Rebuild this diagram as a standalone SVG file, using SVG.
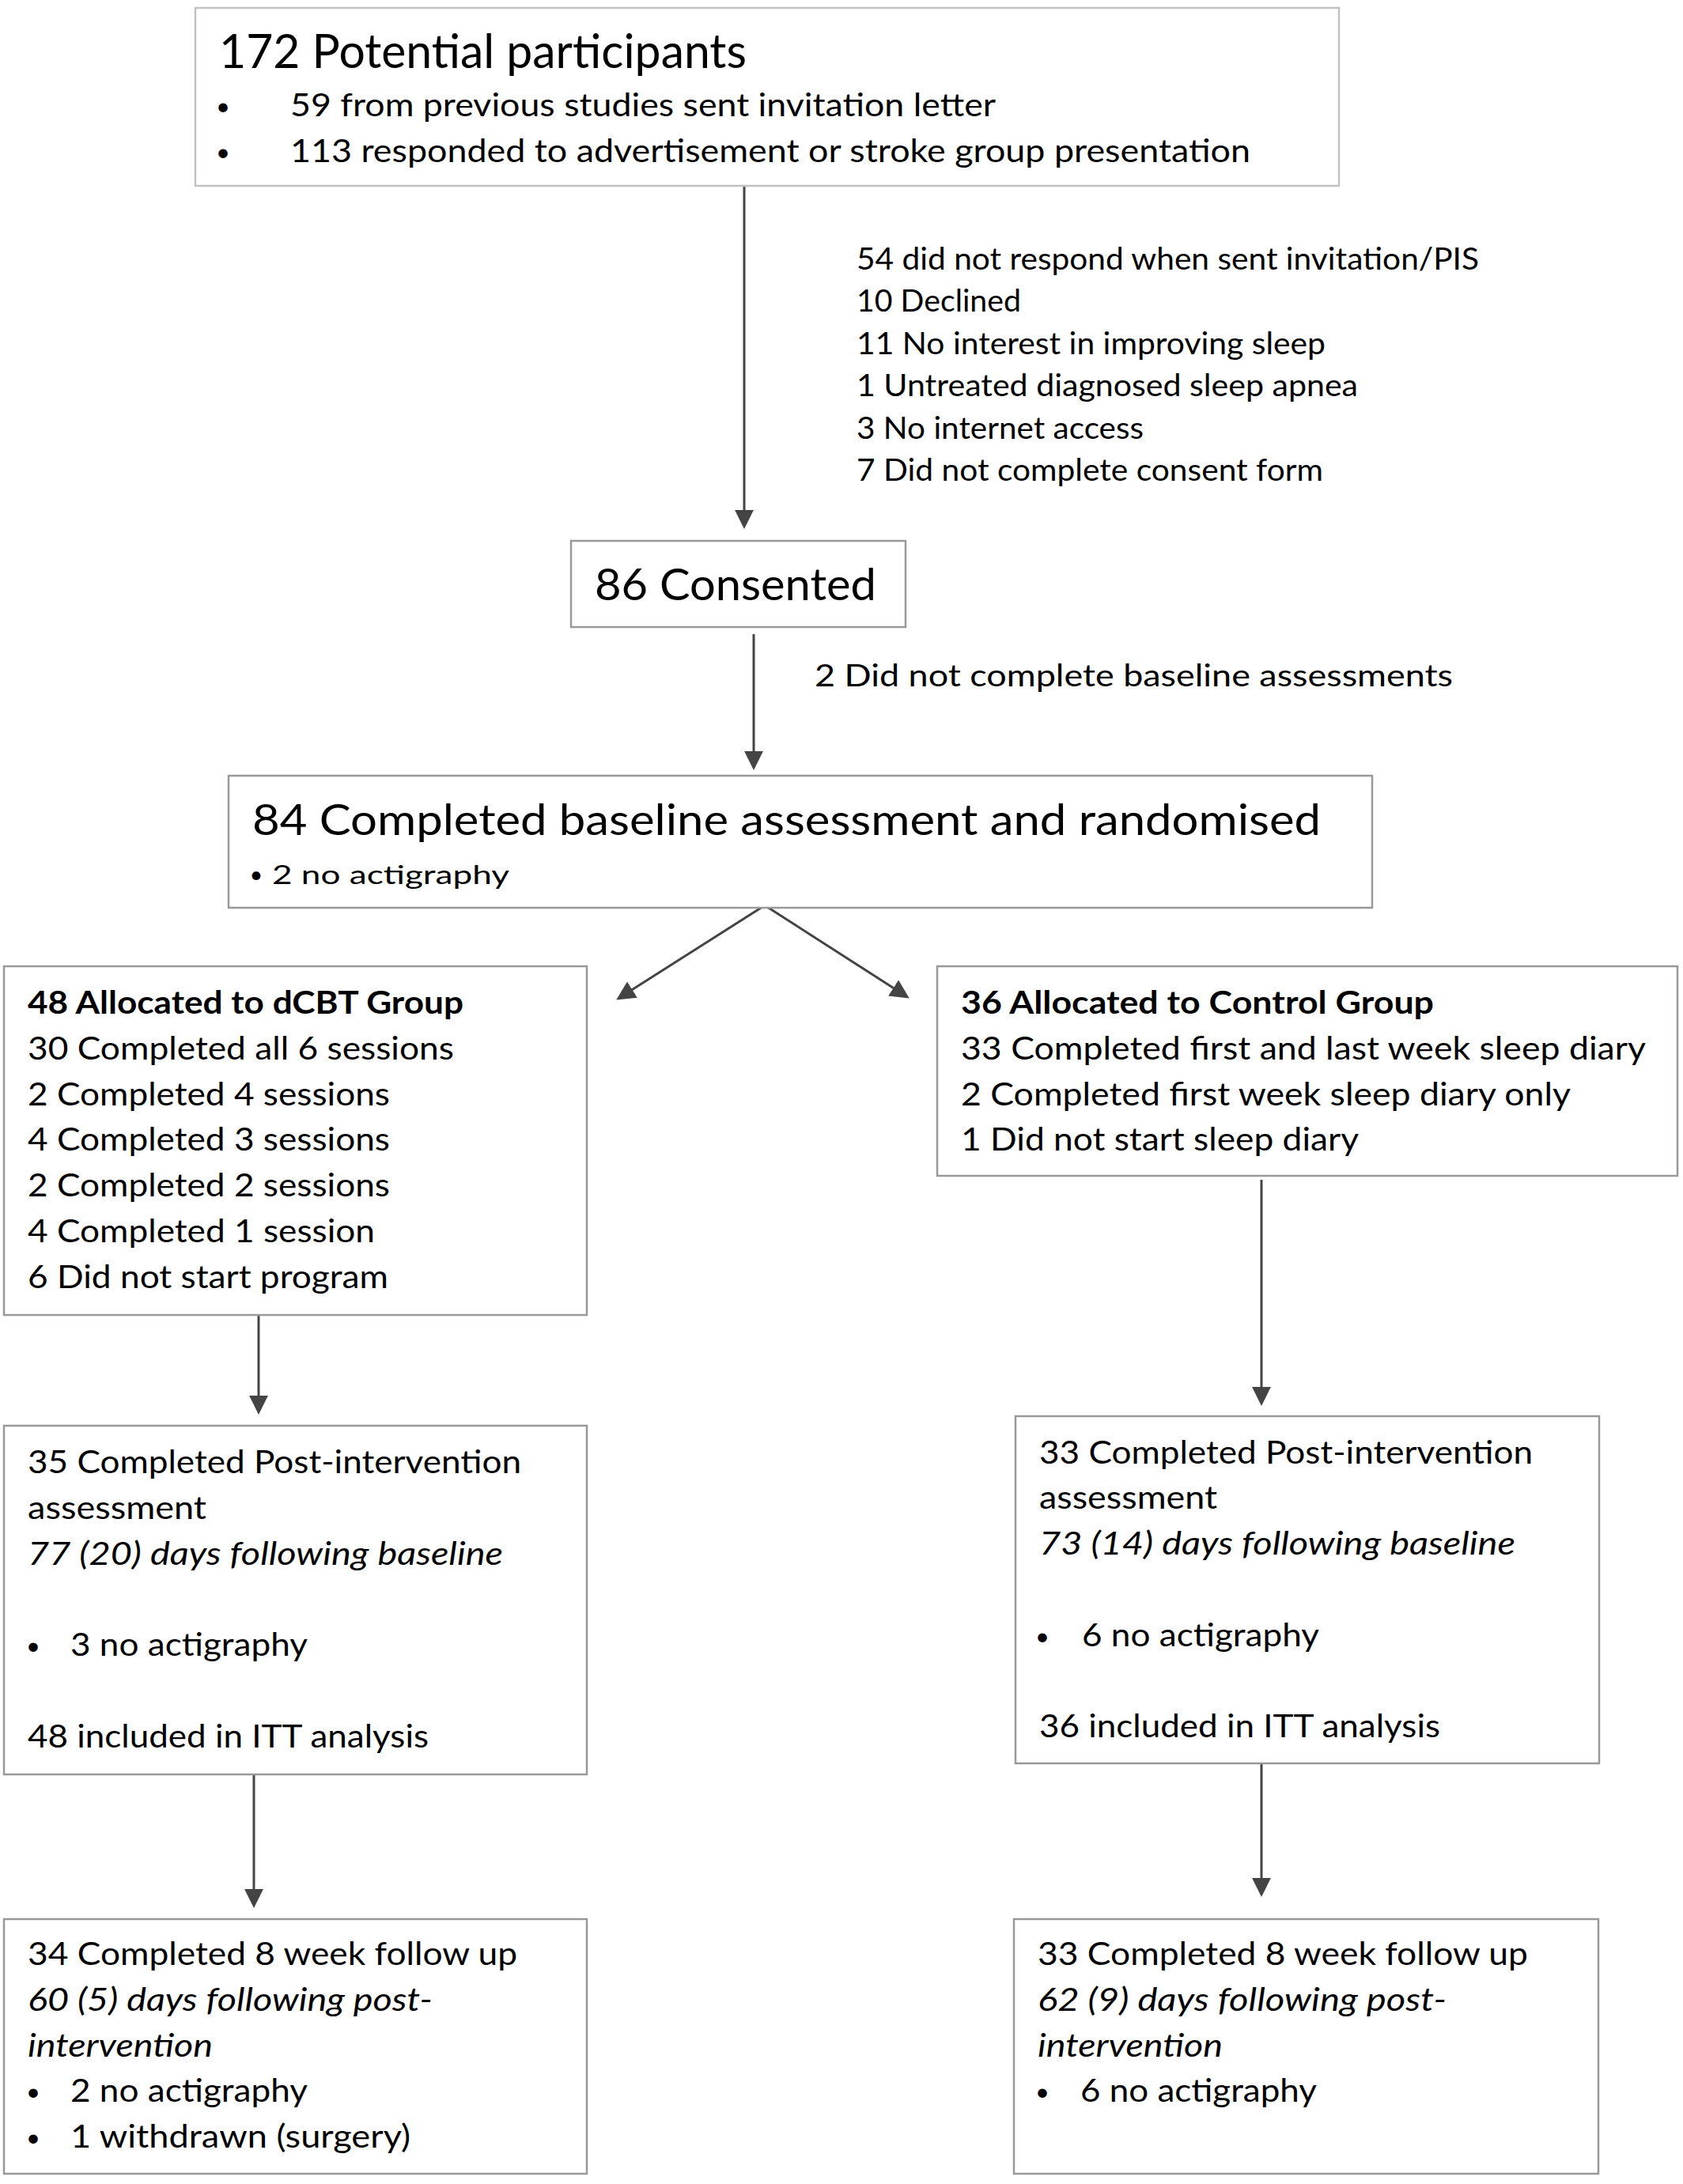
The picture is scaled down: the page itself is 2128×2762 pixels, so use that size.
<svg xmlns="http://www.w3.org/2000/svg" width="2128" height="2762" viewBox="0 0 2128 2762">
<style>
.box{fill:#ffffff;stroke:#999999;stroke-width:2.5}
.boxl{fill:#ffffff;stroke:#c2c2c2;stroke-width:2.5}
text{font-family:Lato,"Open Sans","Liberation Sans",sans-serif;fill:#000000}
.t60{font-size:60px}
.t57{font-size:57px}
.t55{font-size:55px}
.t41{font-size:41px}
.t39{font-size:39px}
.t38{font-size:38px}
.t40{font-size:40px}
.t33{font-size:33px}
.b{font-weight:bold}
.i{font-style:italic}
.bul{text-anchor:middle;font-size:31px}
.buls{text-anchor:middle;font-size:29px}
.conn line{stroke:#444444;stroke-width:3;fill:none}
</style>
<defs>
<marker id="ah" markerUnits="userSpaceOnUse" markerWidth="24" markerHeight="24" viewBox="0 0 22 22" refX="12" refY="11" orient="auto">
<path d="M0,0 L22,11 L0,22 Z" fill="#444444"/>
</marker>
</defs>
<rect width="2128" height="2762" fill="#ffffff"/>

<g id="connectors" class="conn">
<line x1="941" y1="235" x2="941" y2="658" marker-end="url(#ah)"/>
<line x1="953" y1="802" x2="953" y2="963" marker-end="url(#ah)"/>
<line x1="967" y1="1145" x2="788.4" y2="1258.6" marker-end="url(#ah)"/>
<line x1="967" y1="1145" x2="1140.6" y2="1256.6" marker-end="url(#ah)"/>
<line x1="327" y1="1663" x2="327" y2="1778" marker-end="url(#ah)"/>
<line x1="1595" y1="1492" x2="1595" y2="1767" marker-end="url(#ah)"/>
<line x1="321" y1="2244" x2="321" y2="2402" marker-end="url(#ah)"/>
<line x1="1595" y1="2230" x2="1595" y2="2388" marker-end="url(#ah)"/>
</g>

<g id="potential">
<rect class="boxl" x="247" y="10" width="1446" height="225"/>
<text class="t60" x="277" y="86" textLength="667" lengthAdjust="spacingAndGlyphs">172 Potential participants</text>
<text class="bul" x="282" y="145">•</text>
<text class="t41" x="367" y="147" textLength="892" lengthAdjust="spacingAndGlyphs">59 from previous studies sent invitation letter</text>
<text class="bul" x="282" y="203">•</text>
<text class="t41" x="367" y="205" textLength="1214" lengthAdjust="spacingAndGlyphs">113 responded to advertisement or stroke group presentation</text>
</g>

<g id="excluded1">
<text class="t39" x="1083" y="340.5" textLength="787" lengthAdjust="spacingAndGlyphs">54 did not respond when sent invitation/PIS</text>
<text class="t39" x="1083" y="394" textLength="208" lengthAdjust="spacingAndGlyphs">10 Declined</text>
<text class="t39" x="1083" y="447.5" textLength="593" lengthAdjust="spacingAndGlyphs">11 No interest in improving sleep</text>
<text class="t39" x="1083" y="501" textLength="634" lengthAdjust="spacingAndGlyphs">1 Untreated diagnosed sleep apnea</text>
<text class="t39" x="1083" y="554.5" textLength="363" lengthAdjust="spacingAndGlyphs">3 No internet access</text>
<text class="t39" x="1083" y="608" textLength="590" lengthAdjust="spacingAndGlyphs">7 Did not complete consent form</text>
</g>

<g id="consented">
<rect class="box" x="722" y="684" width="423" height="109"/>
<text class="t57" x="752" y="759" textLength="356" lengthAdjust="spacingAndGlyphs">86 Consented</text>
</g>

<g id="excluded2">
<text class="t38" x="1030" y="868" textLength="807" lengthAdjust="spacingAndGlyphs">2 Did not complete baseline assessments</text>
</g>

<g id="randomised">
<rect class="box" x="289" y="981" width="1446" height="167"/>
<text class="t55" x="319" y="1056" textLength="1351" lengthAdjust="spacingAndGlyphs">84 Completed baseline assessment and randomised</text>
<text class="buls" x="324" y="1116">•</text>
<text class="t33" x="344" y="1117.5" textLength="300" lengthAdjust="spacingAndGlyphs">2 no actigraphy</text>
</g>

<g id="dcbt">
<rect class="box" x="5" y="1222" width="737" height="441"/>
<text class="t40 b" x="35" y="1282" textLength="551" lengthAdjust="spacingAndGlyphs">48 Allocated to dCBT Group</text>
<text class="t40" x="35" y="1339.8" textLength="539" lengthAdjust="spacingAndGlyphs">30 Completed all 6 sessions</text>
<text class="t40" x="35" y="1397.6" textLength="458" lengthAdjust="spacingAndGlyphs">2 Completed 4 sessions</text>
<text class="t40" x="35" y="1455.4" textLength="458" lengthAdjust="spacingAndGlyphs">4 Completed 3 sessions</text>
<text class="t40" x="35" y="1513.2" textLength="458" lengthAdjust="spacingAndGlyphs">2 Completed 2 sessions</text>
<text class="t40" x="35" y="1571" textLength="439" lengthAdjust="spacingAndGlyphs">4 Completed 1 session</text>
<text class="t40" x="35" y="1628.8" textLength="456" lengthAdjust="spacingAndGlyphs">6 Did not start program</text>
</g>

<g id="control">
<rect class="box" x="1185" y="1222" width="936" height="265"/>
<text class="t40 b" x="1215" y="1282" textLength="598" lengthAdjust="spacingAndGlyphs">36 Allocated to Control Group</text>
<text class="t40" x="1215" y="1339.8" textLength="866" lengthAdjust="spacingAndGlyphs">33 Completed first and last week sleep diary</text>
<text class="t40" x="1215" y="1397.6" textLength="771" lengthAdjust="spacingAndGlyphs">2 Completed first week sleep diary only</text>
<text class="t40" x="1215" y="1455.4" textLength="503" lengthAdjust="spacingAndGlyphs">1 Did not start sleep diary</text>
</g>

<g id="dcbt-post">
<rect class="box" x="5" y="1803" width="737" height="441"/>
<text class="t40" x="35" y="1863" textLength="624" lengthAdjust="spacingAndGlyphs">35 Completed Post-intervention</text>
<text class="t40" x="35" y="1920.8" textLength="226" lengthAdjust="spacingAndGlyphs">assessment</text>
<text class="t40 i" x="35" y="1978.6" textLength="601" lengthAdjust="spacingAndGlyphs">77 (20) days following baseline</text>
<text class="bul" x="42" y="2092">•</text>
<text class="t40" x="89" y="2094.2" textLength="300" lengthAdjust="spacingAndGlyphs">3 no actigraphy</text>
<text class="t40" x="35" y="2209.8" textLength="507" lengthAdjust="spacingAndGlyphs">48 included in ITT analysis</text>
</g>

<g id="control-post">
<rect class="box" x="1284" y="1791" width="738" height="439"/>
<text class="t40" x="1314" y="1850.5" textLength="624" lengthAdjust="spacingAndGlyphs">33 Completed Post-intervention</text>
<text class="t40" x="1314" y="1908.3" textLength="225" lengthAdjust="spacingAndGlyphs">assessment</text>
<text class="t40 i" x="1314" y="1966.1" textLength="602" lengthAdjust="spacingAndGlyphs">73 (14) days following baseline</text>
<text class="bul" x="1318" y="2079.5">•</text>
<text class="t40" x="1368" y="2081.7" textLength="300" lengthAdjust="spacingAndGlyphs">6 no actigraphy</text>
<text class="t40" x="1314" y="2197.3" textLength="507" lengthAdjust="spacingAndGlyphs">36 included in ITT analysis</text>
</g>

<g id="dcbt-followup">
<rect class="box" x="5" y="2427" width="737" height="322"/>
<text class="t40" x="35" y="2485" textLength="619" lengthAdjust="spacingAndGlyphs">34 Completed 8 week follow up</text>
<text class="t40 i" x="35" y="2542.8" textLength="512" lengthAdjust="spacingAndGlyphs">60 (5) days following post-</text>
<text class="t40 i" x="35" y="2600.6" textLength="234" lengthAdjust="spacingAndGlyphs">intervention</text>
<text class="bul" x="42" y="2656.2">•</text>
<text class="t40" x="89" y="2658.4" textLength="300" lengthAdjust="spacingAndGlyphs">2 no actigraphy</text>
<text class="bul" x="42" y="2714">•</text>
<text class="t40" x="89" y="2716.2" textLength="430" lengthAdjust="spacingAndGlyphs">1 withdrawn (surgery)</text>
</g>

<g id="control-followup">
<rect class="box" x="1282" y="2427" width="739" height="322"/>
<text class="t40" x="1312" y="2485" textLength="620" lengthAdjust="spacingAndGlyphs">33 Completed 8 week follow up</text>
<text class="t40 i" x="1312" y="2542.8" textLength="517" lengthAdjust="spacingAndGlyphs">62 (9) days following post-</text>
<text class="t40 i" x="1312" y="2600.6" textLength="234" lengthAdjust="spacingAndGlyphs">intervention</text>
<text class="bul" x="1318" y="2656.2">•</text>
<text class="t40" x="1366" y="2658.4" textLength="299" lengthAdjust="spacingAndGlyphs">6 no actigraphy</text>
</g>
</svg>
